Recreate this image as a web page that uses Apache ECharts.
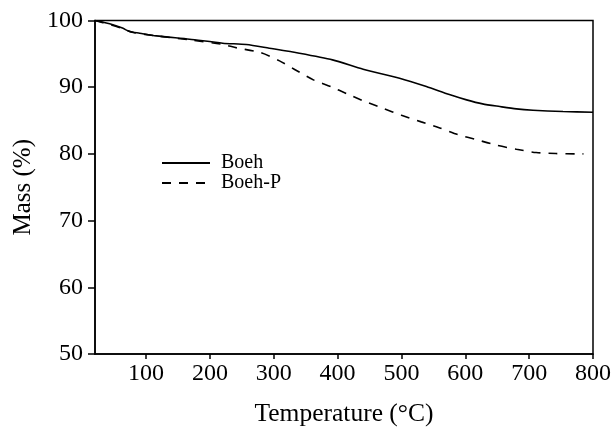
<!DOCTYPE html>
<html>
<head>
<meta charset="utf-8">
<script src="https://cdn.jsdelivr.net/npm/echarts@6/dist/echarts.min.js"></script>
<style>
  html, body { margin: 0; padding: 0; background: #fff; }
  #chart { width: 613px; height: 428px; }
</style>
</head>
<body>
<div id="chart"></div>
<script>
// TGA curves: mass retained versus temperature
const tempBoeh = [20, 43, 63, 74, 90, 116, 168, 220, 257, 293, 340, 392, 440, 497, 539, 575, 602, 627, 654, 680, 706, 753, 800];
const massBoeh = [100, 99.5, 98.86, 98.35, 98.1, 97.7, 97.2, 96.6, 96.4, 95.85, 95.1, 94.1, 92.7, 91.35, 90.1, 88.9, 88.1, 87.5, 87.1, 86.75, 86.55, 86.35, 86.25];

const tempBoehP = [20, 43, 63, 80, 116, 168, 218, 242, 279, 309, 332, 362, 390, 415, 443, 472, 500, 531, 560, 588, 619, 649, 680, 711, 742, 775, 785];
const massBoehP = [100, 99.4, 98.8, 98.2, 97.7, 97.1, 96.45, 95.9, 95.2, 93.95, 92.7, 91.1, 90.05, 89.0, 87.85, 86.8, 85.8, 84.8, 83.9, 82.9, 82.1, 81.3, 80.7, 80.2, 80.05, 80.0, 80.0];

const xTicks = [100, 200, 300, 400, 500, 600, 700, 800];
const yTicks = [50, 60, 70, 80, 90, 100];
const seriesNames = ['Boeh', 'Boeh-P'];

const pairs = (xs, ys) => xs.map((x, i) => [x, ys[i]]);

const FONT = "'Liberation Serif', 'Times New Roman', serif";
const chart = echarts.init(document.getElementById('chart'), null, { renderer: 'canvas' });

chart.setOption({
  backgroundColor: '#fff',
  animation: false,
  grid: {
    left: 95, right: 20, top: 20.5, bottom: 74,
    outerBoundsMode: 'none',
    show: true, borderColor: '#000', borderWidth: 1.5, backgroundColor: 'transparent'
  },
  legend: {
    orient: 'vertical',
    left: 156, top: 148,
    itemWidth: 48, itemHeight: 14, itemGap: 0,
    data: seriesNames,
    itemStyle: { opacity: 0 },
    textStyle: { fontFamily: FONT, fontSize: 20, lineHeight: 20, color: '#000', padding: [0, 0, 0, 6] }
  },
  xAxis: {
    type: 'value', min: 20, max: 800,
    name: 'Temperature (°C)', nameLocation: 'middle', nameGap: 47,
    nameTextStyle: { fontFamily: FONT, fontSize: 25.5, color: '#000' },
    axisLine: { show: true, lineStyle: { color: '#000', width: 1.5 } },
    axisTick: { show: true, length: 5, lineStyle: { color: '#000', width: 1.5 }, customValues: xTicks },
    axisLabel: { fontFamily: FONT, fontSize: 24, color: '#000', margin: 8, customValues: xTicks },
    splitLine: { show: false }
  },
  yAxis: {
    type: 'value', min: 50, max: 100, interval: 10,
    name: 'Mass (%)', nameLocation: 'middle', nameGap: 56,
    nameTextStyle: { fontFamily: FONT, fontSize: 25, color: '#000' },
    axisLine: { show: true, lineStyle: { color: '#000', width: 1.5 } },
    axisTick: { show: true, length: 7, lineStyle: { color: '#000', width: 1.5 }, customValues: yTicks },
    axisLabel: { fontFamily: FONT, fontSize: 24, color: '#000', margin: 12, customValues: yTicks },
    splitLine: { show: false }
  },
  series: [
    {
      name: seriesNames[0], type: 'line', data: pairs(tempBoeh, massBoeh),
      symbol: 'none', smooth: 0.25,
      lineStyle: { color: '#000', width: 1.6, type: 'solid' },
      itemStyle: { color: '#000' }
    },
    {
      name: seriesNames[1], type: 'line', data: pairs(tempBoehP, massBoehP),
      symbol: 'none', smooth: 0.25,
      lineStyle: { color: '#000', width: 1.6, type: [9, 8] },
      itemStyle: { color: '#000' }
    }
  ]
});
</script>
</body>
</html>
